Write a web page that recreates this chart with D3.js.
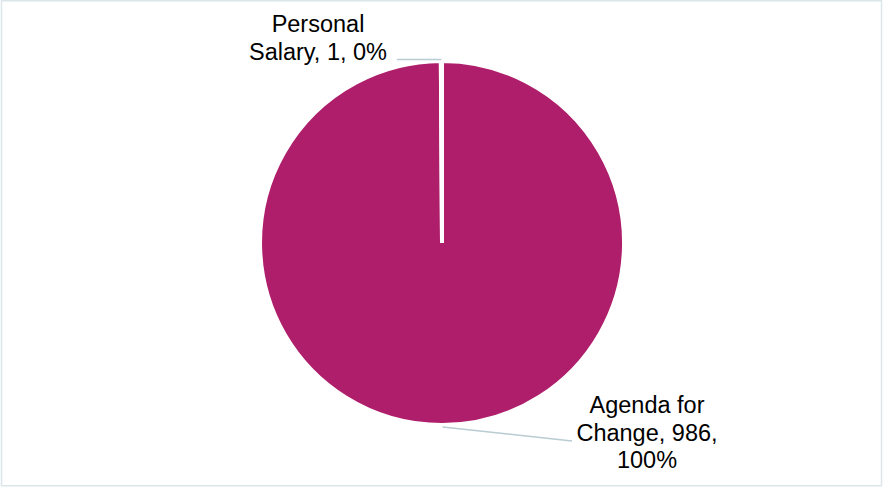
<!DOCTYPE html>
<html>
<head>
<meta charset="utf-8">
<script src="https://cdn.jsdelivr.net/npm/d3@7"></script>
<style>
  body { margin: 0; background: #fff; }
  svg { display: block; font-family: "Liberation Sans", Arial, sans-serif; }
</style>
</head>
<body>
<script>
const categories = ['Agenda for Change', 'Personal Salary'];
const values = [986, 1];
const colors = ['#ae1e6a', '#ae1e6a'];

const svgWidth = 883;
const svgHeight = 488;
const cx = 442;
const cy = 243;
const radius = 182;

const total = d3.sum(values);
const dataset = categories.map((c, i) => ({ name: c, value: values[i], color: colors[i] }));

// label layout: where each leader line ends and where the text block sits
const labelLayout = {
    'Agenda for Change': { lines: ['Agenda for', 'Change, {v},', '{p}'], lx: 572, ly: 441, tx: 647, ty: 413 },
    'Personal Salary': { lines: ['Personal', 'Salary, {v}, {p}'], lx: 397, ly: 59.5, tx: 318, ty: 32 }
};

const svg = d3.select('body')
    .append('svg')
    .attr('width', svgWidth)
    .attr('height', svgHeight);

svg.append('rect')
    .attr('x', 1.5)
    .attr('y', 0.75)
    .attr('width', 880)
    .attr('height', 485)
    .attr('fill', 'none')
    .attr('stroke', '#dce6ea')
    .attr('stroke-width', 1.5);

const pie = d3.pie()
    .sort(null)
    .value(d => d.value);

const arc = d3.arc()
    .innerRadius(0)
    .outerRadius(radius);

const g = svg.append('g')
    .attr('transform', `translate(${cx}, ${cy})`);

const arcs = pie(dataset);

g.selectAll('path')
    .data(arcs)
    .enter()
    .append('path')
    .attr('d', arc)
    .attr('fill', d => d.data.color)
    .attr('stroke', '#fff')
    .attr('stroke-width', 4);

// leader lines
arcs.forEach(d => {
    const lay = labelLayout[d.data.name];
    const mid = (d.startAngle + d.endAngle) / 2;
    const r0 = radius + 2;
    const x0 = cx + Math.sin(mid) * r0;
    const y0 = cy - Math.cos(mid) * r0;
    svg.append('line')
        .attr('x1', x0)
        .attr('y1', d.data.name === 'Personal Salary' ? lay.ly : y0)
        .attr('x2', lay.lx)
        .attr('y2', lay.ly)
        .attr('stroke', '#b8ccd1')
        .attr('stroke-width', 1.5);

    const pct = Math.round(d.data.value / total * 100) + '%';
    const text = svg.append('text')
        .attr('text-anchor', 'middle')
        .attr('font-size', 23.5)
        .attr('fill', '#000');
    lay.lines.forEach((ln, i) => {
        text.append('tspan')
            .attr('x', lay.tx)
            .attr('y', lay.ty + i * 27.5)
            .text(ln.replace('{v}', d.data.value).replace('{p}', pct));
    });
});
</script>
</body>
</html>
